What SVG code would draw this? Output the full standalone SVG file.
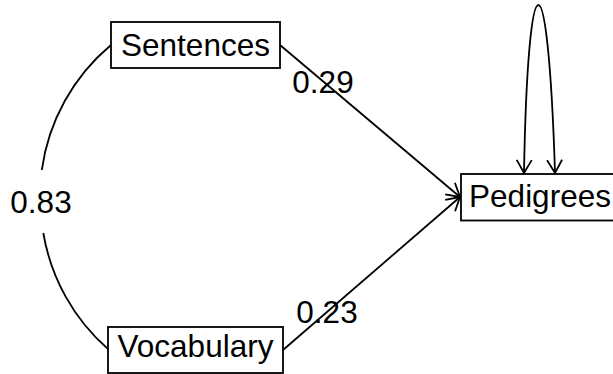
<svg xmlns="http://www.w3.org/2000/svg" width="613" height="374" viewBox="0 0 613 374">
<defs>
<style>
.box{fill:#fff;stroke:#000;stroke-width:1.8}
.lbl{font-family:"Liberation Sans",Arial,sans-serif;font-size:31.5px;fill:#000;text-anchor:middle}
.edge{fill:none;stroke:#000;stroke-width:1.8}
</style>
<marker id="arr" markerUnits="userSpaceOnUse" markerWidth="20" markerHeight="20" refX="0" refY="0" viewBox="-15 -10 17 20" orient="auto-start-reverse">
<path d="M-13,-7.5 L0,0 L-13,7.5" fill="none" stroke="#000" stroke-width="1.8"/>
</marker>
</defs>
<rect width="613" height="374" fill="#fff"/>
<g id="connectors">
<path class="edge" d="M111,45 A198.2,198.2 0 0 0 41.8,170"/>
<path class="edge" d="M43.3,233 A198.2,198.2 0 0 0 108,349"/>
<line class="edge" x1="280" y1="45" x2="460" y2="197" marker-end="url(#arr)"/>
<line class="edge" x1="283" y1="350" x2="460" y2="197" marker-end="url(#arr)"/>
<path class="edge" d="M524,173 C528,-51 548,-51 555,173" marker-start="url(#arr)" marker-end="url(#arr)"/>
<text class="lbl" x="41" y="213">0.83</text>
<text class="lbl" x="323" y="93">0.29</text>
<text class="lbl" x="327" y="322.5">0.23</text>
</g>
<g id="node-sentences">
<rect class="box" x="111" y="22" width="169" height="46"/>
<text class="lbl" x="195.5" y="56">Sentences</text>
</g>
<g id="node-vocabulary">
<rect class="box" x="108" y="327" width="175" height="46"/>
<text class="lbl" x="195.5" y="357">Vocabulary</text>
</g>
<g id="node-pedigrees">
<rect class="box" x="461" y="174" width="159" height="46.5"/>
<text class="lbl" x="540" y="206.5">Pedigrees</text>
</g>
</svg>
